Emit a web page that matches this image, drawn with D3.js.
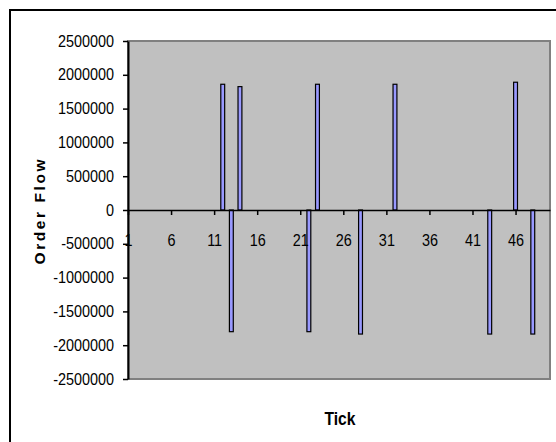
<!DOCTYPE html>
<meta charset="utf-8">
<style>
body { margin: 0; background: #fff; }
svg { display: block; }
text { font-family: "Liberation Sans", Arial, sans-serif; }
.tick text { font-size: 16px; fill: #000; }
.title { font-weight: bold; fill: #000; }
</style>
<svg width="556" height="442"></svg>
<script src="https://d3js.org/d3.v7.min.js"></script>
<script>
// one bar per tick, most ticks have no order flow
var ticks = d3.range(1, 51);
var orderFlow = [0, 0, 0, 0, 0, 0, 0, 0, 0, 0,
                 0, 1860000, -1800000, 1825000, 0, 0, 0, 0, 0, 0,
                 0, -1800000, 1860000, 0, 0, 0, 0, -1835000, 0, 0,
                 0, 1860000, 0, 0, 0, 0, 0, 0, 0, 0,
                 0, 0, -1835000, 0, 0, 1890000, 0, -1835000, 0, 0];
var xLabels = [1, 6, 11, 16, 21, 26, 31, 36, 41, 46];
var yLabels = [-2500000, -2000000, -1500000, -1000000, -500000, 0,
               500000, 1000000, 1500000, 2000000, 2500000];

var svg = d3.select("svg");
var plotL = 128, plotR = 550, plotT = 41, plotB = 379;

// chart frame (only left/top edges fall inside the picture)
svg.append("rect")
    .attr("x", 10).attr("y", 10).attr("width", 600).attr("height", 500)
    .attr("fill", "none").attr("stroke", "#000").attr("stroke-width", 2);

var x = d3.scalePoint().domain(ticks).range([plotL, plotR]);
var y = d3.scaleLinear().domain([-2500000, 2500000]).range([plotB, plotT]);

// plot area
svg.append("rect")
    .attr("x", plotL).attr("y", plotT)
    .attr("width", plotR - plotL).attr("height", plotB - plotT)
    .attr("fill", "#c0c0c0").attr("stroke", "#808080").attr("stroke-width", 2);

var bw = x.step() * 0.45;
svg.selectAll(".bar")
    .data(ticks.map(function(t, i) { return {t: t, v: orderFlow[i]}; })
               .filter(function(d) { return d.v !== 0; }))
    .enter().append("rect")
        .attr("class", "bar")
        .attr("x", function(d) { return x(d.t) - bw / 2; })
        .attr("y", function(d) { return y(Math.max(0, d.v)); })
        .attr("width", bw)
        .attr("height", function(d) { return Math.abs(y(d.v) - y(0)); })
        .attr("fill", "#9999ff").attr("stroke", "#000").attr("stroke-width", 1.2);

var xAxis = svg.append("g")
    .attr("transform", "translate(0," + y(0) + ")")
    .call(d3.axisBottom(x).tickValues(xLabels).tickSizeInner(5).tickSizeOuter(0).tickPadding(20));
xAxis.select(".domain").attr("stroke-width", 1.5);
xAxis.selectAll(".tick line").attr("stroke-width", 1.5);

var yAxis = svg.append("g")
    .attr("transform", "translate(" + plotL + ",0)")
    .call(d3.axisLeft(y).tickValues(yLabels).tickSizeInner(5).tickSizeOuter(0).tickPadding(9)
        .tickFormat(function(d) { return String(d); }));
yAxis.select(".domain").attr("stroke-width", 2);
yAxis.selectAll(".tick line").attr("stroke-width", 1.5);

// the source font is a narrow face: squeeze the labels a little
svg.selectAll(".tick text").each(function() {
    var len = this.getComputedTextLength();
    d3.select(this).attr("textLength", len * 0.9).attr("lengthAdjust", "spacingAndGlyphs");
});

svg.append("text")
    .attr("class", "title")
    .attr("transform", "translate(45,212) rotate(-90)")
    .attr("text-anchor", "middle")
    .attr("textLength", 105).attr("lengthAdjust", "spacing")
    .style("font-size", "15.5px")
    .text("Order Flow");

svg.append("text")
    .attr("class", "title")
    .attr("x", 340).attr("y", 425)
    .attr("text-anchor", "middle")
    .attr("textLength", 31).attr("lengthAdjust", "spacingAndGlyphs")
    .style("font-size", "19px")
    .text("Tick");
</script>
